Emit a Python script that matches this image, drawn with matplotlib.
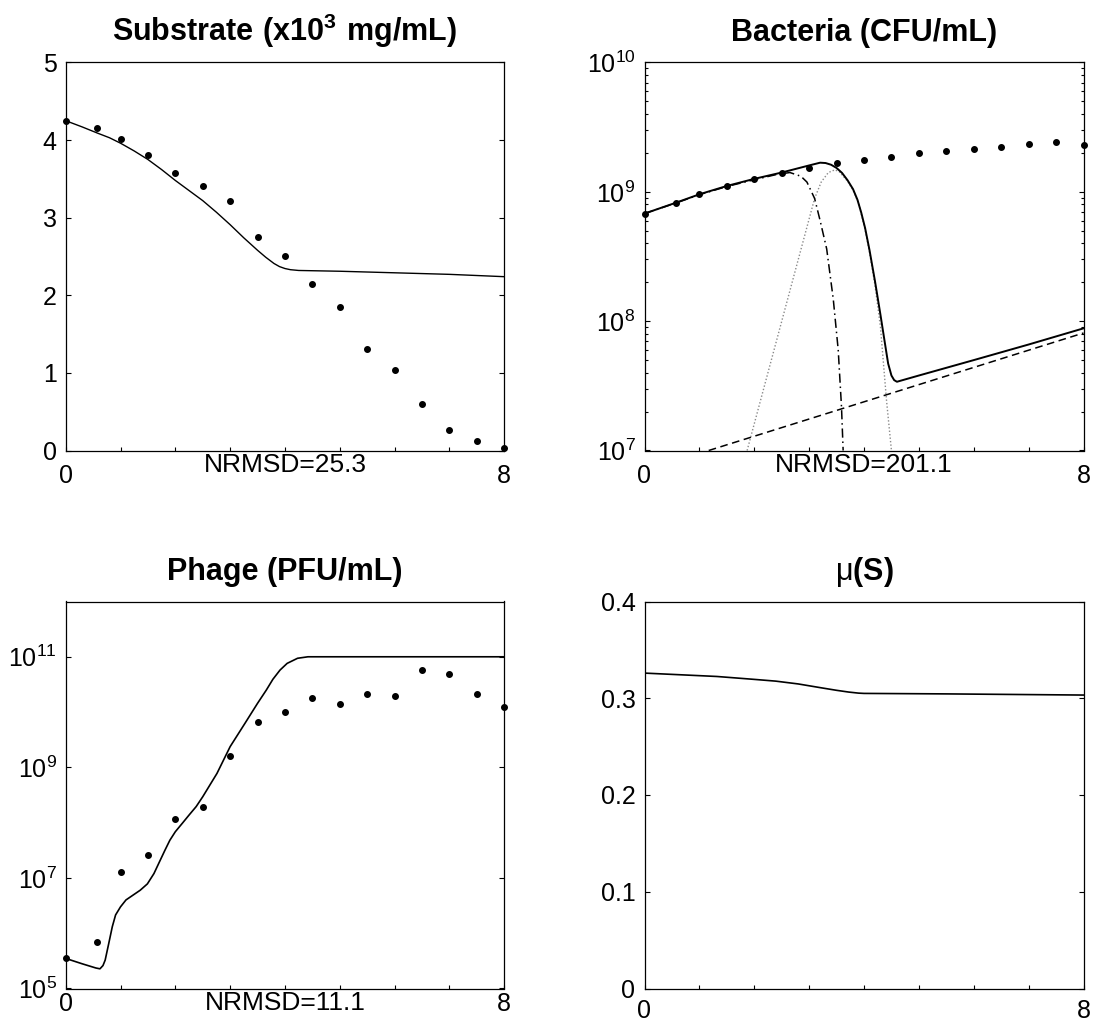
import matplotlib
matplotlib.use("Agg")
import matplotlib.pyplot as plt
from matplotlib.ticker import FixedLocator, NullLocator, LogLocator, FuncFormatter
import numpy as np

plt.rcParams['font.family'] = 'Liberation Sans'
plt.rcParams['mathtext.fontset'] = 'custom'
plt.rcParams['mathtext.rm'] = 'Liberation Sans'
plt.rcParams['mathtext.bf'] = 'Liberation Sans:bold'
plt.rcParams['mathtext.default'] = 'regular'

# sampling times of the measurements (h)
t_obs = [0, 0.58, 1, 1.5, 2, 2.5, 3, 3.5, 4, 4.5, 5, 5.5, 6, 6.5, 7, 7.5, 8]

# substrate (x10^3 mg/mL)
substrate_obs = [4.25, 4.16, 4.01, 3.81, 3.58, 3.41, 3.22, 2.75, 2.50, 2.14,
                 1.85, 1.31, 1.04, 0.60, 0.26, 0.12, 0.03]
t_sub_mod = [0, 0.3, 0.58, 0.8, 1.0, 1.25, 1.5, 1.75, 2.0, 2.25, 2.5, 2.75, 3.0,
             3.25, 3.5, 3.65, 3.8, 3.9, 4.0, 4.1, 4.25, 5, 6, 7, 8]
substrate_mod = [4.25, 4.17, 4.09, 4.03, 3.96, 3.86, 3.75, 3.62, 3.48, 3.35, 3.22,
                 3.07, 2.91, 2.74, 2.58, 2.49, 2.41, 2.37, 2.345, 2.33, 2.32, 2.31,
                 2.29, 2.27, 2.24]

# bacteria (CFU/mL)
bact_obs = [6.79e8, 8.26e8, 9.57e8, 1.11e9, 1.26e9, 1.39e9, 1.54e9, 1.68e9, 1.75e9,
            1.87e9, 1.98e9, 2.07e9, 2.13e9, 2.21e9, 2.33e9, 2.43e9, 2.32e9]
t_bact_tot = [0, 0.58, 1, 1.5, 2, 2.5, 3.0, 3.2, 3.3, 3.4, 3.5, 3.6, 3.7, 3.8, 3.88,
              3.95, 4.02, 4.1, 4.2, 4.3, 4.38, 4.44, 4.5, 4.55, 4.6, 5, 6, 7, 8]
bact_tot = [6.79e8, 8.26e8, 9.57e8, 1.11e9, 1.26e9, 1.41e9, 1.60e9, 1.68e9, 1.67e9,
            1.62e9, 1.53e9, 1.40e9, 1.23e9, 1.05e9, 8.7e8, 6.9e8, 5.25e8, 3.55e8,
            2.04e8, 1.12e8, 6.8e7, 4.7e7, 3.8e7, 3.5e7, 3.40e7, 3.8e7, 5.0e7, 6.6e7,
            8.8e7]
t_bact_sus = [0, 0.58, 1, 1.5, 2, 2.4, 2.65, 2.85, 2.96, 3.10, 3.2, 3.32, 3.44, 3.53,
              3.59, 3.62]
bact_sus = [6.79e8, 8.22e8, 9.5e8, 1.10e9, 1.24e9, 1.36e9, 1.41e9, 1.32e9, 1.19e9,
            8.89e8, 6.0e8, 3.62e8, 1.48e8, 6.0e7, 2.17e7, 1.0e7]
t_bact_inf = [1.87, 2.45, 3.10, 3.22, 3.35, 3.47, 3.55, 3.7, 3.8, 3.9, 4.02, 4.1, 4.2,
              4.3, 4.41, 4.50]
bact_inf = [1.0e7, 8.3e7, 8.89e8, 1.19e9, 1.41e9, 1.48e9, 1.43e9, 1.21e9, 1.03e9,
            8.2e8, 5.1e8, 3.4e8, 1.9e8, 9.0e7, 2.45e7, 1.0e7]
t_bact_res = [1.17, 8]
bact_res = [1.0e7, 8.1e7]

# phage (PFU/mL)
phage_obs = [3.5e5, 7.0e5, 1.28e7, 2.6e7, 1.15e8, 1.9e8, 1.6e9, 6.6e9, 1.0e10,
             1.82e10, 1.38e10, 2.15e10, 1.98e10, 5.8e10, 4.9e10, 2.1e10, 1.22e10]
t_phage_mod = [0, 0.3, 0.55, 0.625, 0.68, 0.72, 0.785, 0.85, 0.91, 1.0, 1.1, 1.23,
               1.36, 1.49, 1.61, 1.71, 1.81, 1.9, 2.0, 2.13, 2.25, 2.38, 2.5, 2.76,
               3.0, 3.27, 3.5, 3.66, 3.78, 3.91, 4.04, 4.23, 4.42, 8]
phage_mod = [3.5e5, 2.8e5, 2.35e5, 2.27e5, 2.6e5, 3.26e5, 6.5e5, 1.31e6, 2.14e6,
             3.0e6, 4.0e6, 4.9e6, 6.0e6, 7.8e6, 1.2e7, 1.95e7, 3.16e7, 4.8e7, 6.85e7,
             9.8e7, 1.37e8, 1.95e8, 2.94e8, 7.78e8, 2.37e9, 6.25e9, 1.44e10,
             2.5e10, 3.92e10, 5.75e10, 7.6e10, 9.4e10, 1.0e11, 1.0e11]

# specific growth rate mu(S)
t_mu = [0, 1.32, 2.0, 2.39, 2.8, 3.22, 3.5, 3.72, 3.9, 4.0, 5.5, 8]
mu_mod = [0.326, 0.3225, 0.3195, 0.3177, 0.3148, 0.3108, 0.3082, 0.3064, 0.3053,
          0.305, 0.3045, 0.3033]

nrmsd = [25.3, 201.1, 11.1]

W, H = 1095, 1025
fig = plt.figure(figsize=(W / 100, H / 100), dpi=100)


def make_ax(l, t, w, h):
    return fig.add_axes([l / W, 1 - (t + h) / H, w / W, h / H])


ax1 = make_ax(65.7, 62.5, 438.5, 388)
ax2 = make_ax(644.5, 62.5, 439, 388)
ax3 = make_ax(65.7, 601.5, 438.5, 387)
ax4 = make_ax(644.5, 601.5, 439, 387)

mk = dict(ls='none', marker='o', ms=4, color='k', mec='k', clip_on=False, zorder=5)


def log_fmt(v, pos):
    return r'$10^{%d}$' % int(round(np.log10(v)))


for ax in (ax1, ax2, ax3, ax4):
    ax.set_xlim(0, 8)
    ax.xaxis.set_major_locator(FixedLocator(range(9)))
    ax.xaxis.set_major_formatter(FuncFormatter(lambda v, p: '%g' % v if v in (0, 8) else ''))
    ax.tick_params(axis='both', which='both', direction='in', labelsize=18,
                   width=0.8, color='k')
    ax.tick_params(axis='x', which='major', length=3, pad=10, top=False)
    ax.tick_params(axis='y', which='major', length=3.5, pad=6.5, right=True)
    ax.tick_params(axis='y', which='minor', length=2, right=True)
    for s in ax.spines.values():
        s.set_linewidth(0.9)

# substrate
ax1.plot(t_sub_mod, substrate_mod, color='k', lw=1.0)
ax1.plot(t_obs, substrate_obs, **mk)
ax1.set_ylim(0, 5)
ax1.set_yticks([0, 1, 2, 3, 4, 5])
ax1.set_title(r'$\mathbf{Substrate\ (x10^{3}\ mg/mL)}$', fontsize=22, pad=15.5)

# bacteria
ax2.plot(t_bact_res, bact_res, color='k', lw=1.1, ls=(0, (5, 3)))
ax2.plot(t_bact_inf, bact_inf, color='#8a8a8a', lw=1.0, ls=(0, (1, 1.5)))
ax2.plot(t_bact_sus, bact_sus, color='k', lw=1.1, ls=(0, (6, 2.5, 1, 2.5)))
ax2.plot(t_bact_tot, bact_tot, color='k', lw=1.4)
ax2.plot(t_obs, bact_obs, **mk)
ax2.set_yscale('log')
ax2.set_ylim(1e7, 1e10)
ax2.yaxis.set_major_locator(FixedLocator([1e7, 1e8, 1e9, 1e10]))
ax2.yaxis.set_minor_locator(LogLocator(base=10, subs=np.arange(2, 10)))
ax2.yaxis.set_major_formatter(FuncFormatter(log_fmt))
ax2.yaxis.set_minor_formatter(FuncFormatter(lambda v, p: ''))
ax2.set_title('Bacteria (CFU/mL)', fontsize=22, fontweight='bold', pad=15.5)

# phage
ax3.plot(t_phage_mod, phage_mod, color='k', lw=1.2)
ax3.plot(t_obs, phage_obs, **mk)
ax3.set_yscale('log')
ax3.set_ylim(1e5, 1e12)
ax3.yaxis.set_major_locator(FixedLocator([1e5, 1e7, 1e9, 1e11]))
ax3.yaxis.set_minor_locator(NullLocator())
ax3.yaxis.set_major_formatter(FuncFormatter(log_fmt))
ax3.tick_params(axis='x', which='major', pad=2.5)
ax3.set_title('Phage (PFU/mL)', fontsize=22, fontweight='bold', pad=15.5)

# mu(S)
ax4.plot(t_mu, mu_mod, color='k', lw=1.2)
ax4.set_ylim(0, 0.4)
ax4.set_yticks([0, 0.1, 0.2, 0.3, 0.4])
ax4.yaxis.set_major_formatter(FuncFormatter(lambda v, p: '%g' % round(v, 2)))
ax4.tick_params(axis='x', which='major', pad=7.5)
ax4.set_title(r'$\mathrm{\mu}\mathbf{(S)}$', fontsize=22, pad=15.5)

for ax, val in zip((ax1, ax2, ax3), nrmsd):
    ax.annotate('NRMSD=%.1f' % val, xy=(4, 0), xycoords=('data', 'axes fraction'),
                xytext=(0, -14), textcoords='offset pixels', ha='center', va='center',
                fontsize=19)

fig.savefig('out.png', dpi=100)
